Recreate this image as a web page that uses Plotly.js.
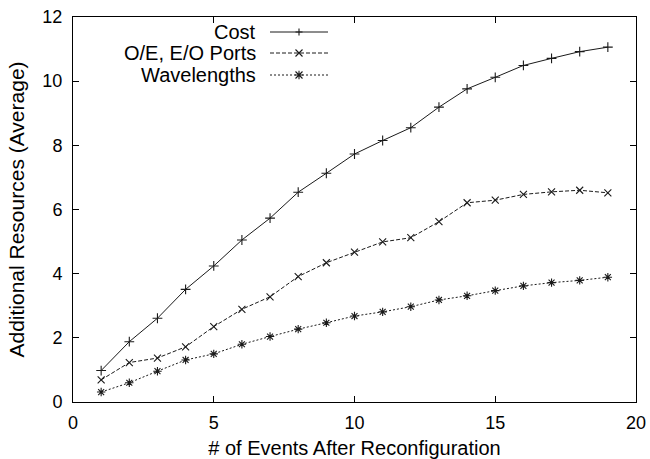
<!DOCTYPE html>
<html><head><meta charset="utf-8">
<script src="https://cdn.plot.ly/plotly-3.0.1.min.js"></script>
<style>html,body{margin:0;padding:0;background:#fff}#chart{width:650px;height:459px}</style>
</head><body><div id="chart"></div>
<script>
const events = [1,2,3,4,5,6,7,8,9,10,11,12,13,14,15,16,17,18,19];
const cost = [0.98,1.88,2.61,3.51,4.24,5.05,5.73,6.54,7.13,7.73,8.15,8.55,9.19,9.76,10.12,10.49,10.71,10.92,11.06];
const ports = [0.69,1.23,1.37,1.72,2.35,2.89,3.28,3.91,4.34,4.67,4.99,5.12,5.62,6.21,6.29,6.47,6.55,6.60,6.52];
const wavelengths = [0.31,0.60,0.96,1.31,1.50,1.80,2.04,2.27,2.47,2.68,2.81,2.97,3.18,3.31,3.47,3.62,3.72,3.79,3.89];
const seriesNames = ["Cost","O/E, E/O Ports","Wavelengths"];
const xTitle = "# of Events After Reconfiguration";
const yTitle = "Additional Resources (Average)";

const FONT = "Liberation Sans, Arial, sans-serif";
const styles = [
  {dash:"solid", symbol:"cross-thin", size:7},
  {dash:"4px,2px", symbol:"x-thin", size:7},
  {dash:"2px,2px", symbol:"asterisk", size:7}
];
const ys = [cost, ports, wavelengths];
const traces = ys.map((y,i)=>({
  x: events, y: y, type:"scatter", mode:"lines+markers", name: seriesNames[i],
  showlegend:false,
  line:{color:"#1a1a1a", width:1, dash:styles[i].dash},
  marker:{symbol:styles[i].symbol, size:styles[i].size, color:"#1a1a1a", line:{color:"#1a1a1a", width:1.1}}
}));

// custom legend (text on the left, sample on the right)
const pw = 563, ph = 385;
const legY = [(402-32)/ph, (402-53)/ph, (402-75)/ph];
const annotations = [];
const shapes = [];
seriesNames.forEach((n,i)=>{
  annotations.push({xref:"paper", yref:"paper", x:(258-73)/pw, y:legY[i], xanchor:"right", yanchor:"middle",
    text:n, showarrow:false, font:{family:FONT, size:20, color:"#000"}});
  shapes.push({type:"line", xref:"paper", yref:"paper", x0:(270-73)/pw, x1:(328-73)/pw, y0:legY[i], y1:legY[i],
    line:{color:"#1a1a1a", width:1, dash:styles[i].dash}});
  const cx = (299-73)/pw, cy = legY[i];
  const dx = 3.5/pw, dy = 3.5/ph;
  let path = "";
  if (i===0) path = `M${cx-dx},${cy} L${cx+dx},${cy} M${cx},${cy-dy} L${cx},${cy+dy}`;
  else if (i===1) path = `M${cx-dx},${cy-dy} L${cx+dx},${cy+dy} M${cx-dx},${cy+dy} L${cx+dx},${cy-dy}`;
  else path = `M${cx-dx},${cy-dy} L${cx+dx},${cy+dy} M${cx-dx},${cy+dy} L${cx+dx},${cy-dy} M${cx-dx*1.2},${cy} L${cx+dx*1.2},${cy} M${cx},${cy-dy*1.2} L${cx},${cy+dy*1.2}`;
  shapes.push({type:"path", xref:"paper", yref:"paper", path:path, line:{color:"#1a1a1a", width:1.1}});
});

const axisCommon = {
  showgrid:false, zeroline:false, showline:true, linecolor:"#000", linewidth:1,
  mirror:"ticks", ticks:"inside", ticklen:6, tickcolor:"#000", tickwidth:1,
  tickfont:{family:FONT, size:18, color:"#000"}
};
const layout = {
  width:650, height:459,
  margin:{l:73, r:14, t:17, b:57},
  paper_bgcolor:"#fff", plot_bgcolor:"#fff",
  font:{family:FONT, color:"#000"},
  xaxis:Object.assign({}, axisCommon, {range:[0,20], dtick:5, ticklabelstandoff:4,
    title:{text:xTitle, font:{family:FONT, size:20, color:"#000"}, standoff:10}}),
  yaxis:Object.assign({}, axisCommon, {range:[0,12], dtick:2, ticklabelstandoff:6,
    title:{text:yTitle, font:{family:FONT, size:21, color:"#000"}, standoff:12}}),
  annotations:annotations, shapes:shapes, showlegend:false
};
Plotly.newPlot("chart", traces, layout, {staticPlot:true, displayModeBar:false});
</script></body></html>
